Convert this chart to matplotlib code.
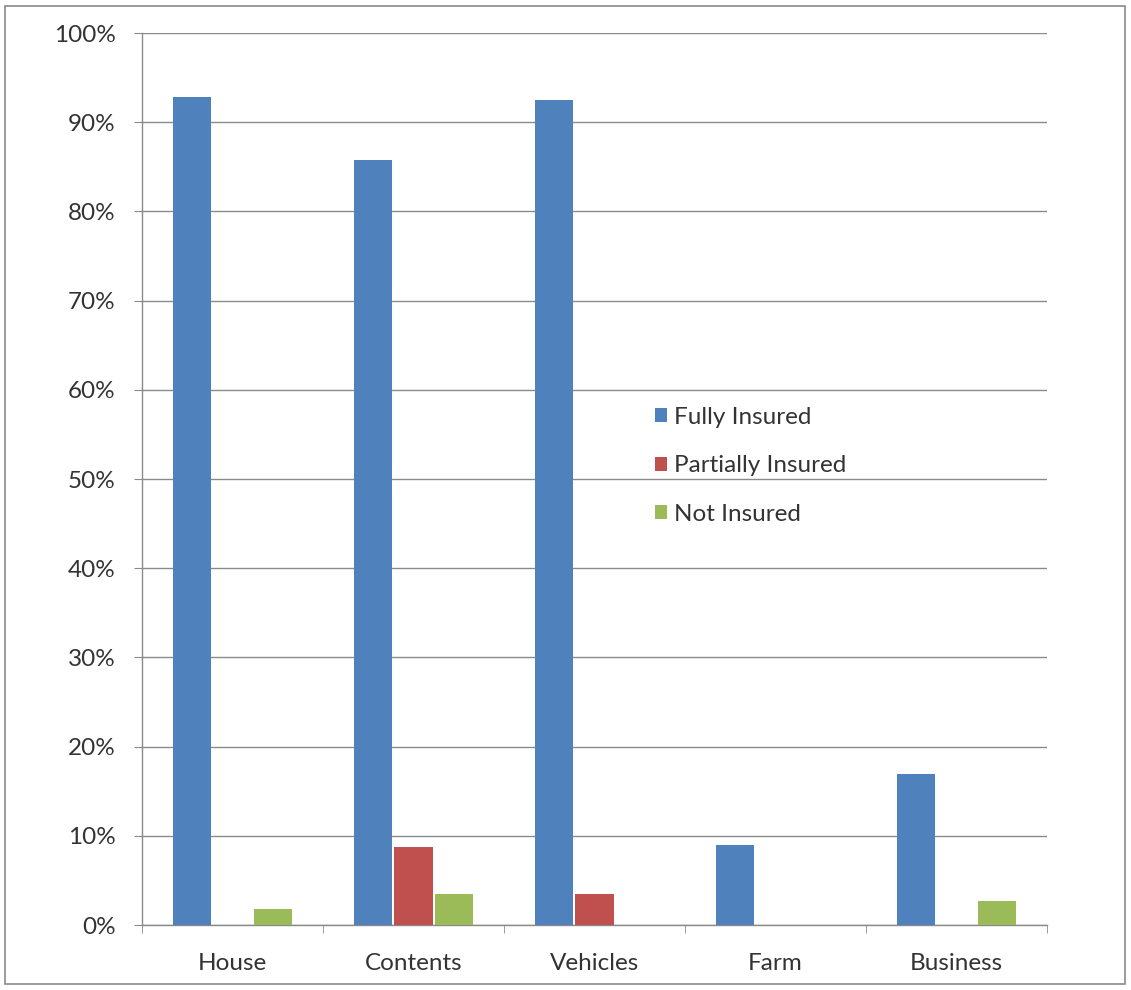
import matplotlib
matplotlib.use("Agg")
import matplotlib.pyplot as plt
from matplotlib.patches import Rectangle
from matplotlib.ticker import FuncFormatter, MultipleLocator
import numpy as np

categories = ["House", "Contents", "Vehicles", "Farm", "Business"]
fully_insured = [92.8, 85.8, 92.5, 9.0, 16.9]
partially_insured = [0.0, 8.8, 3.5, 0.0, 0.0]
not_insured = [1.8, 3.5, 0.0, 0.0, 2.7]
series_names = ["Fully Insured", "Partially Insured", "Not Insured"]
colors = ["#4F81BD", "#C0504D", "#9BBB59"]

plt.rcParams['font.family'] = ['Lato', 'DejaVu Sans']
FS = 17.5

fig = plt.figure(figsize=(11.31, 9.9), dpi=100)
ax = fig.add_axes([142/1131, 1-925/990, (1047-142)/1131, (925-33)/990])

x = np.arange(len(categories))
w = 0.21
for i, (vals, name, c) in enumerate(zip([fully_insured, partially_insured, not_insured], series_names, colors)):
    ax.bar(x + (i-1)*0.222, vals, width=w, color=c, label=name, zorder=3)

ax.set_xlim(-0.5, len(categories)-0.5)
ax.set_ylim(0, 100)
ax.yaxis.set_major_locator(MultipleLocator(10))
ax.yaxis.set_major_formatter(FuncFormatter(lambda v, p: f"{int(round(v))}%"))
ax.grid(axis='y', color='#8a8a8a', linewidth=1.0, zorder=0)
ax.set_axisbelow(True)

for s in ['top', 'right']:
    ax.spines[s].set_visible(False)
for s in ['left', 'bottom']:
    ax.spines[s].set_color('#8a8a8a')
    ax.spines[s].set_linewidth(1.0)

ax.set_xticks(x)
ax.set_xticklabels(categories, fontsize=FS, color='#333333')
ax.tick_params(axis='x', length=0, pad=20)
ax.set_xticks(np.arange(-0.5, len(categories)), minor=True)
ax.tick_params(axis='x', which='minor', length=6, direction='out', color='#8a8a8a')
ax.tick_params(axis='y', labelsize=FS, labelcolor='#333333', length=6, color='#8a8a8a', pad=13)

leg = ax.legend(loc='center left', bbox_to_anchor=(655/1131, 1-466/990), bbox_transform=fig.transFigure,
                frameon=False, fontsize=FS, handlelength=0.5, handleheight=0.5, handletextpad=0.3,
                labelspacing=1.13, borderpad=0, borderaxespad=0)
for t in leg.get_texts():
    t.set_color('#333333')

fig.patches.append(Rectangle((5/1131, 6/990), 1120/1131, 978/990, transform=fig.transFigure,
                             fill=False, edgecolor='#8a8a8a', linewidth=1.2))

fig.savefig("out.png", dpi=100)
